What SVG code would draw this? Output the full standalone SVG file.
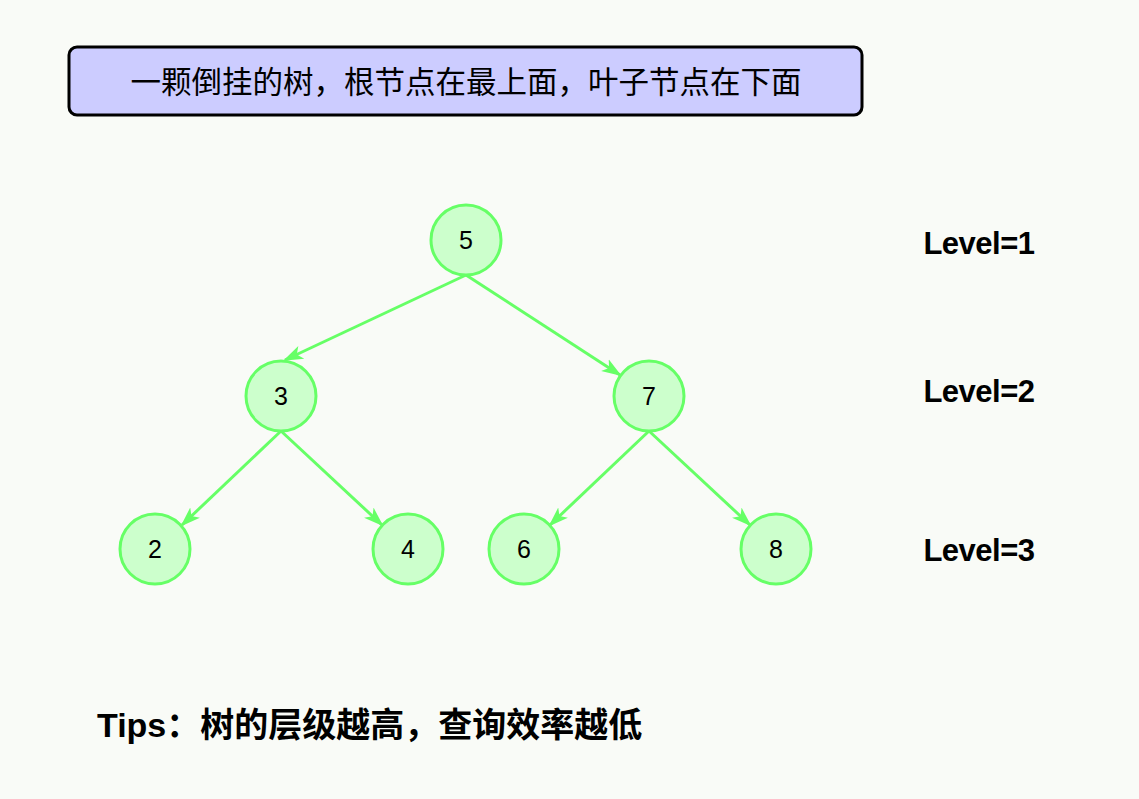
<svg xmlns="http://www.w3.org/2000/svg" width="1139" height="799" viewBox="0 0 1139 799">
<defs>
<style>
.n circle{fill:#ccffcc;stroke:#66ff66;stroke-width:3}
.n text{font-family:"Liberation Sans","Noto Sans CJK SC",sans-serif;font-size:25px;text-anchor:middle;fill:#000}
.e line{stroke:#66ff66;stroke-width:3;marker-end:url(#a)}
.lv{font-family:"Liberation Sans",sans-serif;font-size:31px;font-weight:bold;text-anchor:middle;letter-spacing:-0.5px}
</style>
<marker id="a" viewBox="0 0 20 20" refX="18" refY="10" markerWidth="20" markerHeight="20" orient="auto" markerUnits="userSpaceOnUse"><path d="M0,3 L20,10 L0,17 L5,10 Z" fill="#66ff66"/></marker>
</defs>
<rect width="1139" height="799" fill="#f9fbf7"/>
<g id="title"><rect x="69" y="47" width="793" height="68" rx="8" fill="#ccccff" stroke="#000" stroke-width="3"/>
<text x="466" y="93" font-family="'Noto Sans CJK SC',sans-serif" font-size="30.5" text-anchor="middle">一颗倒挂的树，根节点在最上面，叶子节点在下面</text></g>
<g id="edges" class="e">
<line x1="466" y1="275" x2="285" y2="360"/>
<line x1="466" y1="275" x2="620" y2="375"/>
<line x1="281" y1="431" x2="182" y2="525"/>
<line x1="281" y1="431" x2="382" y2="525"/>
<line x1="649" y1="431" x2="550" y2="525"/>
<line x1="649" y1="431" x2="750" y2="525"/>
</g>
<g id="n5" class="n"><circle cx="466" cy="240" r="35"/><text x="466" y="249">5</text></g>
<g id="n3" class="n"><circle cx="281" cy="396" r="35"/><text x="281" y="405">3</text></g>
<g id="n7" class="n"><circle cx="649" cy="396" r="35"/><text x="649" y="405">7</text></g>
<g id="n2" class="n"><circle cx="155" cy="549" r="35"/><text x="155" y="558">2</text></g>
<g id="n4" class="n"><circle cx="408" cy="549" r="35"/><text x="408" y="558">4</text></g>
<g id="n6" class="n"><circle cx="524" cy="549" r="35"/><text x="524" y="558">6</text></g>
<g id="n8" class="n"><circle cx="776" cy="549" r="35"/><text x="776" y="558">8</text></g>
<g id="levels">
<text class="lv" x="979" y="254">Level=1</text>
<text class="lv" x="979" y="402">Level=2</text>
<text class="lv" x="979" y="561">Level=3</text>
</g>
<text id="tips" x="97" y="737" font-family="'Liberation Sans','Noto Sans CJK SC',sans-serif" font-size="34" font-weight="bold">Tips：树的层级越高，查询效率越低</text>
</svg>
